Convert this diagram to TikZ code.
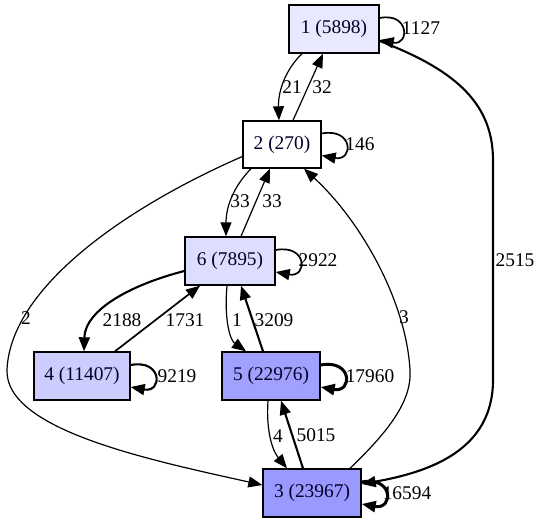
\documentclass[tikz,border=0pt]{standalone}
\usepackage{fontspec}
\setmainfont{Liberation Serif}
\usetikzlibrary{arrows.meta}
\definecolor{cA}{RGB}{232,232,255}
\definecolor{cF}{RGB}{221,221,255}
\definecolor{cD}{RGB}{204,204,255}
\definecolor{cE}{RGB}{160,160,255}
\definecolor{cC}{RGB}{153,153,255}
\tikzset{
  box/.style={draw=black, line width=1.4pt, minimum height=48pt, inner sep=0pt, font=\fontsize{19.4}{23}\selectfont, text=black!85!blue},
  elab/.style={font=\fontsize{19.4}{23}\selectfont, inner sep=0pt, anchor=center},
  edge/.style={draw=black, line width=1.2pt, -{Triangle[length=14pt,width=11pt]}},
  medge/.style={edge, line width=1.7pt},
  hedge/.style={edge, line width=2.1pt},
  tedge/.style={edge, line width=3pt},
}
\begin{document}
\begin{tikzpicture}[x=1pt,y=-1pt]
\useasboundingbox (0,0) rectangle (541,523);
\fill[white] (0,0) rectangle (541,523);
% nodes
\node[box, fill=cA, minimum width=90pt] (n1) at (334,29) {1 (5898)};
\node[box, fill=white, minimum width=78pt, minimum height=47pt] (n2) at (282,144.5) {2 (270)};
\node[box, fill=cF, minimum width=90pt] (n6) at (230,261) {6 (7895)};
\node[box, fill=cD, minimum width=96pt] (n4) at (82,376) {4 (11407)};
\node[box, fill=cE, minimum width=98pt] (n5) at (271,376) {5 (22976)};
\node[box, fill=cC, minimum width=98pt] (n3) at (312,493) {3 (23967)};
% self loops
\draw[medge] ([yshift=11pt]n1.east) .. controls +(30pt,6pt) and +(30pt,-6pt) .. ([yshift=-11pt]n1.east);
\node[elab] (l1127) at (421,28) {1127};
\draw[medge] ([yshift=11pt]n2.east) .. controls +(32pt,6pt) and +(32pt,-6pt) .. ([yshift=-11pt]n2.east);
\node[elab] (l146) at (360,144) {146};
\draw[medge] ([yshift=11pt]n6.east) .. controls +(32pt,6pt) and +(32pt,-6pt) .. ([yshift=-11pt]n6.east);
\node[elab] (l2922) at (318,260) {2922};
\draw[hedge] ([yshift=11pt]n4.east) .. controls +(32pt,6pt) and +(32pt,-6pt) .. ([yshift=-11pt]n4.east);
\node[elab] (l9219) at (177,376) {9219};
\draw[tedge] ([yshift=11pt]n5.east) .. controls +(32pt,6pt) and +(32pt,-6pt) .. ([yshift=-11pt]n5.east);
\node[elab] (l17960) at (370,376) {17960};
\draw[tedge] ([yshift=11pt]n3.east) .. controls +(32pt,6pt) and +(32pt,-6pt) .. ([yshift=-11pt]n3.east);
\node[elab] (l16594) at (407,493) {16594};
% 1 <-> 2
\draw[edge] ([xshift=-32pt]n1.south) .. controls (285,70) and (278,92) .. ([xshift=-3pt]n2.north);
\node[elab] (l21) at (292,87) {21};
\draw[edge] ([xshift=11pt]n2.north) -- ([xshift=-11pt]n1.south);
\node[elab] (l32) at (322,87) {32};
% 2 <-> 6
\draw[edge] ([xshift=-31pt]n2.south) .. controls (235,185) and (226,205) .. ([xshift=-4pt]n6.north);
\node[elab] (l33a) at (240,201) {33};
\draw[edge] ([xshift=11pt]n6.north) -- ([xshift=-12pt]n2.south);
\node[elab] (l33b) at (272,201) {33};
% 6 <-> 4
\draw[hedge] ([yshift=-10pt]n6.west) .. controls (130,285) and (85,310) .. ([xshift=2pt]n4.north);
\node[elab] (l2188) at (122,320) {2188};
\draw[medge] ([xshift=33pt]n4.north) -- ([xshift=-30pt]n6.south);
\node[elab] (l1731) at (185,320) {1731};
% 6 <-> 5
\draw[edge] ([xshift=-3pt]n6.south) .. controls (224,320) and (230,340) .. ([xshift=-25pt]n5.north);
\node[elab] (l1) at (237,320) {1};
\draw[hedge] ([xshift=-8pt]n5.north) -- ([xshift=11pt]n6.south);
\node[elab] (l3209) at (274,320) {3209};
% 5 <-> 3
\draw[edge] ([xshift=-3pt]n5.south) .. controls (266,430) and (272,450) .. ([xshift=-25pt]n3.north);
\node[elab] (l4) at (278,436) {4};
\draw[hedge] ([xshift=-9pt]n3.north) -- ([xshift=10pt]n5.south);
\node[elab] (l5015) at (316,435) {5015};
% 2 -> 3
\draw[edge] ([yshift=-12pt]n2.west) .. controls (120,210) and (10,290) .. (7,370) .. controls (5,430) and (150,460) .. ([yshift=8pt]n3.west);
\node[elab] (l2) at (26,318) {2};
% 3 -> 2
\draw[edge] ([xshift=38pt]n3.north) .. controls (390,430) and (412,400) .. (410,370) .. controls (406,300) and (360,220) .. ([xshift=22pt]n2.south);
\node[elab] (l3) at (404,317) {3};
% 1 -> 3
\draw[hedge] ([yshift=-12pt]n1.east) .. controls (450,68) and (493,100) .. (493,160) -- (493,380) .. controls (493,450) and (430,472) .. ([yshift=9pt]n3.east);
\node[elab] (l2515) at (515,260) {2515};
\end{tikzpicture}
\end{document}
